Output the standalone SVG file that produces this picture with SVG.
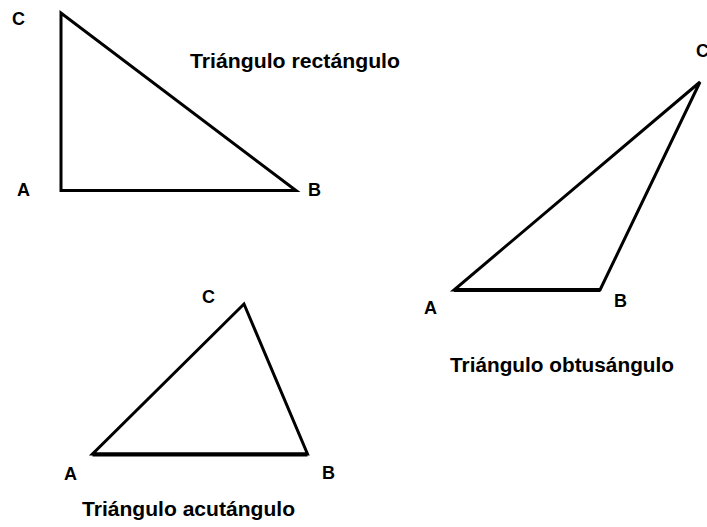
<svg xmlns="http://www.w3.org/2000/svg" width="707" height="527" viewBox="0 0 707 527">
<style>
.tri{fill:none;stroke:#000;stroke-width:3;stroke-linejoin:miter}
.base{fill:none;stroke:#000;stroke-width:4}
.lbl{font-family:"Liberation Sans",Arial,sans-serif;font-weight:bold;font-size:18px;fill:#000}
.ttl{font-family:"Liberation Sans",Arial,sans-serif;font-weight:bold;font-size:19.5px;fill:#000}
</style>
<rect width="707" height="527" fill="#fff"/>
<g id="connectors">
<polygon class="tri" points="61,13 61,190.5 296,190.5"/>
<polygon class="tri" points="454,290 600,290 700,82"/>
<line class="base" x1="454" y1="290" x2="600" y2="290"/>
<polygon class="tri" points="244,304 92.5,454 307.5,454"/>
<line class="base" x1="92.5" y1="454.5" x2="307.5" y2="454.5"/>
</g>
<g id="rectangulo">
<text class="lbl" x="12" y="25">C</text>
<text class="lbl" x="17" y="196">A</text>
<text class="lbl" x="308" y="196">B</text>
<text class="ttl" x="190" y="68" textLength="210" lengthAdjust="spacingAndGlyphs">Triángulo rectángulo</text>
</g>
<g id="obtusangulo">
<text class="lbl" x="696" y="57">C</text>
<text class="lbl" x="424" y="314">A</text>
<text class="lbl" x="614" y="307">B</text>
<text class="ttl" x="450" y="372" textLength="224" lengthAdjust="spacingAndGlyphs">Triángulo obtusángulo</text>
</g>
<g id="acutangulo">
<text class="lbl" x="202" y="303">C</text>
<text class="lbl" x="64" y="480">A</text>
<text class="lbl" x="322" y="479">B</text>
<text class="ttl" x="82" y="516" textLength="213" lengthAdjust="spacingAndGlyphs">Triángulo acutángulo</text>
</g>
</svg>
